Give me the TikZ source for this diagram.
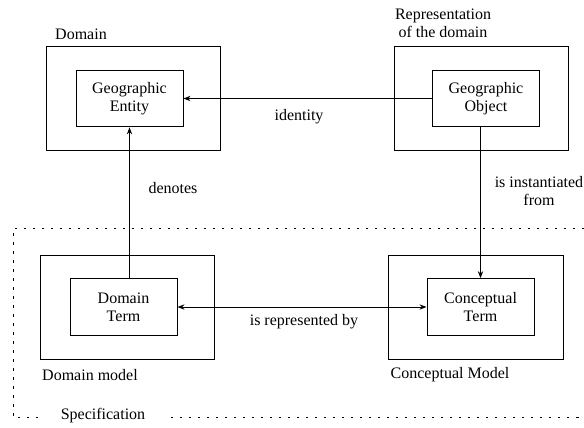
\documentclass[tikz,border=0pt]{standalone}
\usepackage{fontspec}
\setmainfont{Liberation Serif}
\usetikzlibrary{arrows.meta}
\tikzset{>={Stealth[length=4.2pt,width=3.2pt]}}
\tikzset{
  outerbox/.style={draw, line width=0.6pt, minimum width=104pt, minimum height=62.4pt},
  innerbox/.style={draw, line width=0.6pt, align=center, minimum width=64.2pt, minimum height=34pt},
  txt/.style={align=center, font=\fontsize{9.6}{10.6}\selectfont}
}

\begin{document}
\begin{tikzpicture}[x=0.6pt,y=-0.6pt,every node/.style={txt}]
  \useasboundingbox (0,0) rectangle (584,427);

  % specification frame
  \draw[dash pattern=on 1.5pt off 3.9pt] (584,228) -- (13,228) -- (13,417) -- (584,417);
  \node[fill=white, inner xsep=13pt, inner ysep=1pt] (spec) at (103,416) {Specification};

  % outer boxes
  \node[outerbox] (dom) at (133.5,98) {};
  \node[outerbox] (rep) at (481.5,98.5) {};
  \node[outerbox] (dm) at (127.5,307) {};
  \node[outerbox, minimum width=105pt] (cm) at (475.5,307) {};

  % inner boxes
  \node[innerbox] (ge) at (129.5,98.5) {Geographic\\Entity};
  \node[innerbox] (go) at (486,98.5) {Geographic\\Object};
  \node[innerbox] (dt) at (123.5,307) {Domain\\Term};
  \node[innerbox] (ct) at (480.5,307) {Conceptual\\Term};

  % box titles
  \node (domlbl) at (81,34) {Domain};
  \node (replbl) at (443,23) {Representation\\of the domain};
  \node (dmlbl) at (90,375) {Domain model};
  \node (cmlbl) at (450,375) {Conceptual Model};

  % relations
  \draw[->, line width=0.6pt] (go) -- (ge);
  \draw[->, line width=0.6pt] (dt.north -| ge.south) -- (ge.south);
  \draw[->, line width=0.6pt] (go.south -| ct.north) -- (ct.north);
  \draw[<->, line width=0.6pt] (dt) -- (ct);

  \node (idlbl) at (299,117) {identity};
  \node (denlbl) at (173,188) {denotes};
  \node (instlbl) at (539,191) {is instantiated\\from};
  \node (replbl2) at (304,322) {is represented by};
\end{tikzpicture}
\end{document}
